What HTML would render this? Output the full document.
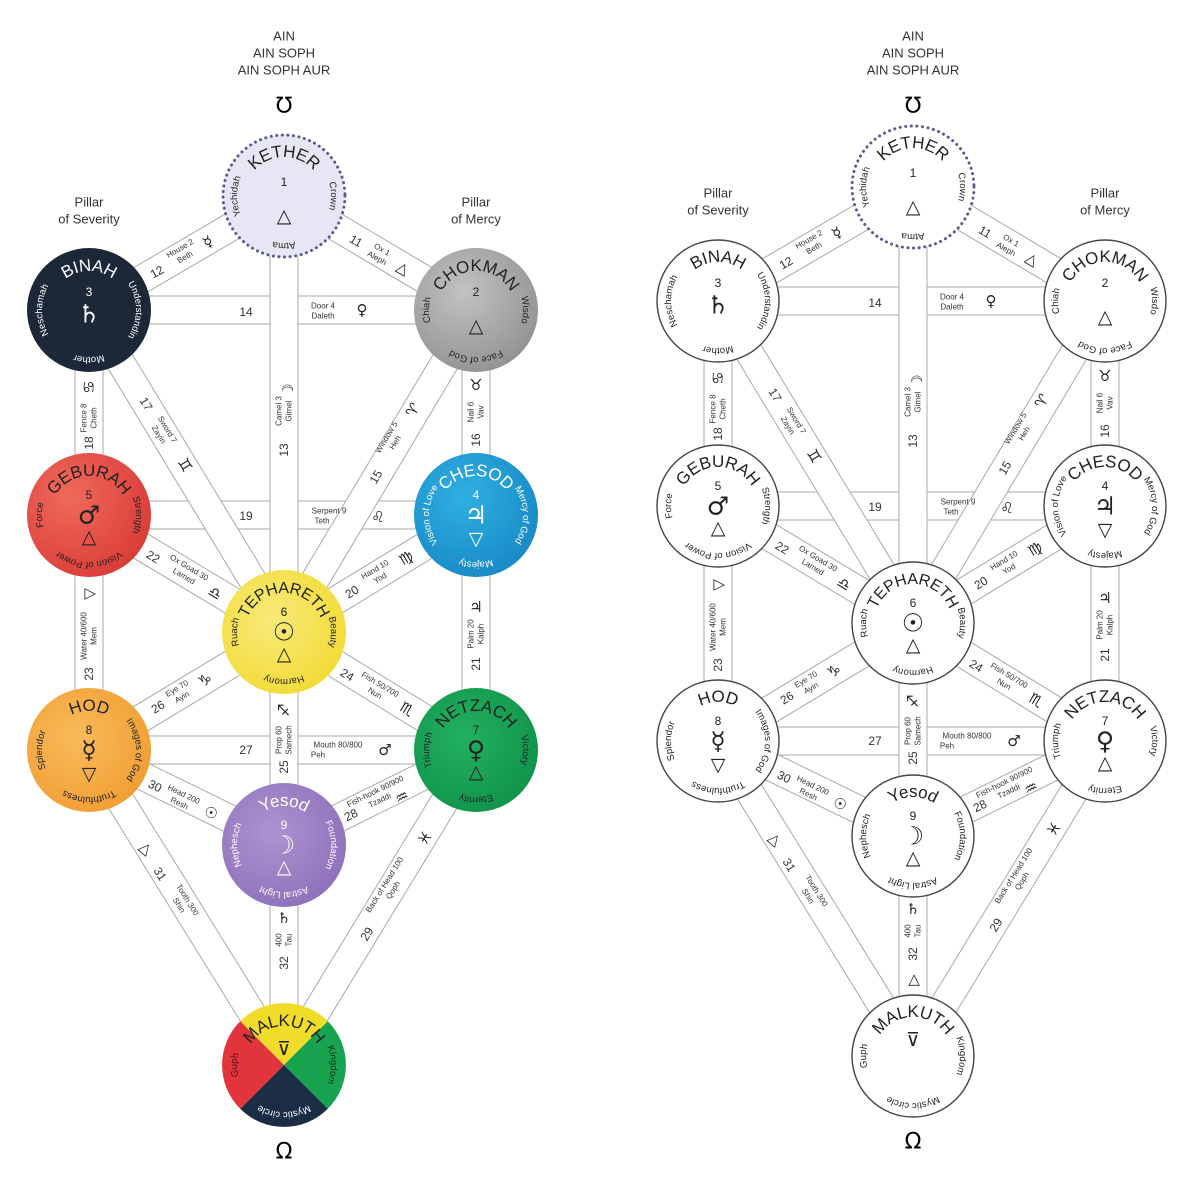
<!DOCTYPE html>
<html><head><meta charset="utf-8"><style>
html,body{margin:0;padding:0;background:#fff}
svg{display:block}
text{font-family:"Liberation Sans","DejaVu Sans",sans-serif;text-anchor:middle;dominant-baseline:central}
.o{stroke:#a9a9a9;stroke-width:29}
.i{stroke:#fff;stroke-width:27}
.n{font-size:12px;fill:#333}
.l{font-size:8px;fill:#333}
.s{font-size:15px;fill:#222;font-family:"DejaVu Sans",sans-serif}
.t{font-size:13px;fill:#333}
.nm{font-size:17px;dominant-baseline:auto;letter-spacing:-0.3px}
.sw{font-size:9.5px;dominant-baseline:auto}
.num{font-size:12px}
.sy{font-size:25px;font-family:"DejaVu Sans",sans-serif;font-weight:bold}
.tr{font-size:19px;font-family:"DejaVu Sans",sans-serif}
.dk text{fill:#222}
.wh text{fill:#fff}
</style></head><body>
<svg width="1200" height="1200" viewBox="0 0 1200 1200" xmlns="http://www.w3.org/2000/svg">
<defs>
<path id="a40" d="M -39,0 A 39 39 0 1 1 39,0 A 39 39 0 1 1 -39,0"/>
<path id="a47" d="M -47,0 A 47 47 0 1 1 47,0 A 47 47 0 1 1 -47,0"/>
<path id="b47" d="M 47,0 A 47 47 0 1 1 -47,0 A 47 47 0 1 1 47,0"/>
<g id="paths">
 <line class="o" x1="89" y1="310" x2="476" y2="310"/><line class="i" x1="89" y1="310" x2="476" y2="310"/>
 <line class="o" x1="89" y1="515" x2="476" y2="515"/><line class="i" x1="89" y1="515" x2="476" y2="515"/>
 <line class="o" x1="89" y1="750" x2="476" y2="750"/><line class="i" x1="89" y1="750" x2="476" y2="750"/>
 <line class="o" x1="89" y1="310" x2="284" y2="196"/><line class="i" x1="89" y1="310" x2="284" y2="196"/>
 <line class="o" x1="476" y1="310" x2="284" y2="196"/><line class="i" x1="476" y1="310" x2="284" y2="196"/>
 <line class="o" x1="89" y1="310" x2="284" y2="632"/><line class="i" x1="89" y1="310" x2="284" y2="632"/>
 <line class="o" x1="476" y1="310" x2="284" y2="632"/><line class="i" x1="476" y1="310" x2="284" y2="632"/>
 <line class="o" x1="89" y1="515" x2="284" y2="632"/><line class="i" x1="89" y1="515" x2="284" y2="632"/>
 <line class="o" x1="476" y1="515" x2="284" y2="632"/><line class="i" x1="476" y1="515" x2="284" y2="632"/>
 <line class="o" x1="89" y1="750" x2="284" y2="632"/><line class="i" x1="89" y1="750" x2="284" y2="632"/>
 <line class="o" x1="476" y1="750" x2="284" y2="632"/><line class="i" x1="476" y1="750" x2="284" y2="632"/>
 <line class="o" x1="89" y1="750" x2="284" y2="845"/><line class="i" x1="89" y1="750" x2="284" y2="845"/>
 <line class="o" x1="476" y1="750" x2="284" y2="845"/><line class="i" x1="476" y1="750" x2="284" y2="845"/>
 <line class="o" x1="89" y1="750" x2="284" y2="1065"/><line class="i" x1="89" y1="750" x2="284" y2="1065"/>
 <line class="o" x1="476" y1="750" x2="284" y2="1065"/><line class="i" x1="476" y1="750" x2="284" y2="1065"/>
 <line class="o" x1="89" y1="310" x2="89" y2="750"/><line class="i" x1="89" y1="310" x2="89" y2="750"/>
 <line class="o" x1="476" y1="310" x2="476" y2="750"/><line class="i" x1="476" y1="310" x2="476" y2="750"/>
 <line class="o" x1="284" y1="196" x2="284" y2="1065"/><line class="i" x1="284" y1="196" x2="284" y2="1065"/>
 <!-- labels -->
 <text class="n" transform="translate(157,272) rotate(-30)">12</text>
 <g transform="translate(182,252) rotate(-30)"><text class="l" y="-4">House 2</text><text class="l" y="6">Beth</text></g>
 <text class="s" transform="translate(208,242) rotate(-30)">☿&#xFE0E;</text>
 <text class="n" transform="translate(356,241) rotate(30)">11</text>
 <g transform="translate(380,253) rotate(30)"><text class="l" y="-4">Ox 1</text><text class="l" y="6">Aleph</text></g>
 <text class="s" transform="translate(403,268) rotate(30)">△</text>
 <text class="n" x="246" y="312">14</text>
 <text class="l" x="323" y="306">Door 4</text><text class="l" x="323" y="316">Daleth</text>
 <text class="s" x="362" y="310">♀&#xFE0E;</text>
 <text class="n" transform="translate(284,450) rotate(-90)">13</text>
 <g transform="translate(284,411) rotate(-90)"><text class="l" y="-5">Camel 3</text><text class="l" y="5">Gimel</text></g>
 <text class="s" transform="translate(288,390) rotate(-90)">☽&#xFE0E;</text>
 <text class="n" transform="translate(89,443) rotate(-90)">18</text>
 <g transform="translate(89,418) rotate(-90)"><text class="l" y="-5">Fence 8</text><text class="l" y="5">Cheth</text></g>
 <text class="s" transform="translate(89,387) rotate(-90)">♋&#xFE0E;</text>
 <text class="n" transform="translate(476,440) rotate(-90)">16</text>
 <g transform="translate(476,412) rotate(-90)"><text class="l" y="-5">Nail 6</text><text class="l" y="5">Vav</text></g>
 <text class="s" x="476" y="385">♉&#xFE0E;</text>
 <text class="n" transform="translate(146,404) rotate(59)">17</text>
 <g transform="translate(163,432) rotate(59)"><text class="l" y="-5">Sword 7</text><text class="l" y="5">Zayin</text></g>
 <text class="s" transform="translate(185,465) rotate(59)">♊&#xFE0E;</text>
 <text class="n" transform="translate(376,477) rotate(-59)">15</text>
 <g transform="translate(391,440) rotate(-59)"><text class="l" y="-5">Window 5</text><text class="l" y="5">Heh</text></g>
 <text class="s" transform="translate(413,410) rotate(-59)">♈&#xFE0E;</text>
 <text class="n" x="246" y="516">19</text>
 <text class="l" x="329" y="511">Serpent 9</text><text class="l" x="322" y="521">Teth</text>
 <text class="s" x="378" y="517">♌&#xFE0E;</text>
 <text class="n" transform="translate(153,557) rotate(31)">22</text>
 <g transform="translate(187,571) rotate(31)"><text class="l" y="-4">Ox Goad 30</text><text class="l" y="6">Lamed</text></g>
 <text class="s" transform="translate(215,593) rotate(31)">♎&#xFE0E;</text>
 <text class="n" transform="translate(352,592) rotate(-31)">20</text>
 <g transform="translate(377,573) rotate(-31)"><text class="l" y="-4">Hand 10</text><text class="l" y="6">Yod</text></g>
 <text class="s" transform="translate(406,558) rotate(-31)">♍&#xFE0E;</text>
 <text class="n" transform="translate(89,674) rotate(-90)">23</text>
 <g transform="translate(89,636) rotate(-90)"><text class="l" y="-5">Water 40/600</text><text class="l" y="5">Mem</text></g>
 <text class="s" transform="translate(89,594) rotate(-90)">▽</text>
 <text class="n" transform="translate(476,664) rotate(-90)">21</text>
 <g transform="translate(476,634) rotate(-90)"><text class="l" y="-5">Palm 20</text><text class="l" y="5">Kalph</text></g>
 <text class="s" x="476" y="607">♃&#xFE0E;</text>
 <text class="n" transform="translate(158,707) rotate(-31)">26</text>
 <g transform="translate(179,692) rotate(-31)"><text class="l" y="-4">Eye 70</text><text class="l" y="6">Ayin</text></g>
 <text class="s" transform="translate(205,680) rotate(-31)">♑&#xFE0E;</text>
 <text class="n" transform="translate(347,675) rotate(31)">24</text>
 <g transform="translate(378,688) rotate(31)"><text class="l" y="-4">Fish 50/700</text><text class="l" y="6">Nun</text></g>
 <text class="s" transform="translate(407,709) rotate(31)">♏&#xFE0E;</text>
 <text class="n" transform="translate(284,767) rotate(-90)">25</text>
 <g transform="translate(284,740) rotate(-90)"><text class="l" y="-5">Prop 60</text><text class="l" y="5">Samech</text></g>
 <text class="s" transform="translate(284,710) rotate(-90)">♐&#xFE0E;</text>
 <text class="n" x="246" y="750">27</text>
 <text class="l" x="338" y="745">Mouth 80/800</text><text class="l" x="318" y="755">Peh</text>
 <text class="s" x="385" y="750">♂&#xFE0E;</text>
 <text class="n" transform="translate(155,786) rotate(26)">30</text>
 <g transform="translate(182,798) rotate(26)"><text class="l" y="-4">Head 200</text><text class="l" y="6">Resh</text></g>
 <text class="s" transform="translate(211,813) rotate(26)">☉&#xFE0E;</text>
 <text class="n" transform="translate(351,815) rotate(-26)">28</text>
 <g transform="translate(377,795) rotate(-26)"><text class="l" y="-4">Fish-hook 90/900</text><text class="l" y="6">Tzaddi</text></g>
 <text class="s" transform="translate(402,797) rotate(-26)">♒&#xFE0E;</text>
 <text class="s" transform="translate(146,848) rotate(40)">△</text>
 <text class="n" transform="translate(160,874) rotate(58)">31</text>
 <g transform="translate(184,902) rotate(58)"><text class="l" y="-4">Tooth 300</text><text class="l" y="6">Shin</text></g>
 <text class="n" transform="translate(367,934) rotate(-58)">29</text>
 <g transform="translate(388,887) rotate(-58)"><text class="l" y="-4">Back of Head 100</text><text class="l" y="6">Qoph</text></g>
 <text class="s" transform="translate(425,838) rotate(-58)">♓&#xFE0E;</text>
 <text class="n" transform="translate(284,963) rotate(-90)">32</text>
 <g transform="translate(284,940) rotate(-90)"><text class="l" y="-5">400</text><text class="l" y="5">Tau</text></g>
 <text class="s" x="284" y="918">♄&#xFE0E;</text>
 <text class="t" x="89" y="202">Pillar</text><text class="t" x="89" y="219">of Severity</text>
 <text class="t" x="476" y="202">Pillar</text><text class="t" x="476" y="219">of Mercy</text>
</g>
<radialGradient id="gr" cx="35%" cy="35%" r="75%"><stop offset="0" stop-color="#ef6a5c"/><stop offset="1" stop-color="#d93a36"/></radialGradient>
<radialGradient id="gb" cx="40%" cy="35%" r="75%"><stop offset="0" stop-color="#2fb0e2"/><stop offset="1" stop-color="#1686c4"/></radialGradient>
<radialGradient id="gg" cx="40%" cy="35%" r="75%"><stop offset="0" stop-color="#c2c2c2"/><stop offset="1" stop-color="#8e8e8e"/></radialGradient>
<radialGradient id="gy" cx="40%" cy="40%" r="75%"><stop offset="0" stop-color="#f8ea7a"/><stop offset="1" stop-color="#f2d92c"/></radialGradient>
<radialGradient id="go" cx="40%" cy="40%" r="75%"><stop offset="0" stop-color="#f8bb5a"/><stop offset="1" stop-color="#f09a2e"/></radialGradient>
<radialGradient id="gn" cx="40%" cy="40%" r="75%"><stop offset="0" stop-color="#22b060"/><stop offset="1" stop-color="#0d9048"/></radialGradient>
<radialGradient id="gp" cx="40%" cy="40%" r="75%"><stop offset="0" stop-color="#ad93d0"/><stop offset="1" stop-color="#8a6cb8"/></radialGradient>
</defs>

<text class="t" x="284" y="36">AIN</text><text class="t" x="284" y="53">AIN SOPH</text><text class="t" x="284" y="70">AIN SOPH AUR</text>
<text x="284" y="106" style="font-size:22px;font-family:'DejaVu Sans',sans-serif">℧</text>
<text x="284" y="1152" style="font-size:22px;font-family:'DejaVu Sans',sans-serif">Ω</text>
<text class="t" x="913" y="36">AIN</text><text class="t" x="913" y="53">AIN SOPH</text><text class="t" x="913" y="70">AIN SOPH AUR</text>
<text x="913" y="106" style="font-size:22px;font-family:'DejaVu Sans',sans-serif">℧</text>
<text x="913" y="1142" style="font-size:22px;font-family:'DejaVu Sans',sans-serif">Ω</text>

<use href="#paths"/>
<g transform="translate(629,-9)"><use href="#paths"/>
<text class="s" transform="translate(284,989) rotate(-90)">▷</text></g>

<!-- LEFT NODES -->
<g class="dk" transform="translate(284,196)"><circle r="61" fill="#e6e6f5" stroke="#5a5a90" stroke-width="3" stroke-dasharray="0.1 5.5" stroke-linecap="round"/>
<text class="nm"><textPath href="#a40" startOffset="25%" text-anchor="middle">KETHER</textPath></text>
<text class="num" y="-14">1</text><text class="tr" y="20">△</text>
<text class="sw"><textPath href="#b47" startOffset="50%" text-anchor="middle">Yechidah</textPath></text>
<text class="sw"><textPath href="#a47" startOffset="50%" text-anchor="middle">Crown</textPath></text>
<text class="sw"><textPath href="#a47" startOffset="75%" text-anchor="middle">Atma</textPath></text></g>

<g class="wh" transform="translate(89,310)"><circle r="62" fill="#1c2838"/>
<text class="nm"><textPath href="#a40" startOffset="25%" text-anchor="middle">BINAH</textPath></text>
<text class="num" y="-18">3</text><text class="sy" y="4">♄&#xFE0E;</text>
<text class="sw"><textPath href="#b47" startOffset="50%" text-anchor="middle">Neschamah</textPath></text>
<text class="sw"><textPath href="#a47" startOffset="50%" text-anchor="middle">Understandin</textPath></text>
<text class="sw"><textPath href="#a47" startOffset="75%" text-anchor="middle">Mother</textPath></text></g>

<g class="dk" transform="translate(476,310)"><circle r="62" fill="url(#gg)"/>
<text class="nm"><textPath href="#a40" startOffset="25%" text-anchor="middle">CHOKMAN</textPath></text>
<text class="num" y="-18">2</text><text class="tr" y="16">△</text>
<text class="sw"><textPath href="#b47" startOffset="50%" text-anchor="middle">Chiah</textPath></text>
<text class="sw"><textPath href="#a47" startOffset="50%" text-anchor="middle">Wisdo</textPath></text>
<text class="sw"><textPath href="#a47" startOffset="75%" text-anchor="middle">Face of God</textPath></text></g>

<g class="dk" transform="translate(89,515)"><circle r="62" fill="url(#gr)"/>
<text class="nm"><textPath href="#a40" startOffset="25%" text-anchor="middle">GEBURAH</textPath></text>
<text class="num" y="-20">5</text><text class="sy" y="0">♂&#xFE0E;</text><text class="tr" y="22">△</text>
<text class="sw"><textPath href="#b47" startOffset="50%" text-anchor="middle">Force</textPath></text>
<text class="sw"><textPath href="#a47" startOffset="50%" text-anchor="middle">Strength</textPath></text>
<text class="sw"><textPath href="#a47" startOffset="75%" text-anchor="middle">Vision of Power</textPath></text></g>

<g class="wh" transform="translate(476,515)"><circle r="62" fill="url(#gb)"/>
<text class="nm"><textPath href="#a40" startOffset="25%" text-anchor="middle">CHESOD</textPath></text>
<text class="num" y="-20">4</text><text class="sy" y="0">♃&#xFE0E;</text><text class="tr" y="24">▽</text>
<text class="sw"><textPath href="#b47" startOffset="50%" text-anchor="middle">Vision of Love</textPath></text>
<text class="sw"><textPath href="#a47" startOffset="50%" text-anchor="middle">Mercy of God</textPath></text>
<text class="sw"><textPath href="#a47" startOffset="75%" text-anchor="middle">Majesty</textPath></text></g>

<g class="dk" transform="translate(284,632)"><circle r="62" fill="url(#gy)"/>
<text class="nm" style="font-size:16px"><textPath href="#a40" startOffset="25%" text-anchor="middle">TEPHARETH</textPath></text>
<text class="num" y="-20">6</text><text class="sy" y="0">☉&#xFE0E;</text><text class="tr" y="22">△</text>
<text class="sw"><textPath href="#b47" startOffset="50%" text-anchor="middle">Ruach</textPath></text>
<text class="sw"><textPath href="#a47" startOffset="50%" text-anchor="middle">Beauty</textPath></text>
<text class="sw"><textPath href="#a47" startOffset="75%" text-anchor="middle">Harmony</textPath></text></g>

<g class="dk" transform="translate(89,750)"><circle r="62" fill="url(#go)"/>
<text class="nm"><textPath href="#a40" startOffset="25%" text-anchor="middle">HOD</textPath></text>
<text class="num" y="-20">8</text><text class="sy" y="0">☿&#xFE0E;</text><text class="tr" y="24">▽</text>
<text class="sw"><textPath href="#b47" startOffset="50%" text-anchor="middle">Splendor</textPath></text>
<text class="sw"><textPath href="#a47" startOffset="50%" text-anchor="middle">Images of God</textPath></text>
<text class="sw"><textPath href="#a47" startOffset="75%" text-anchor="middle">Truthfulness</textPath></text></g>

<g class="dk" transform="translate(476,750)"><circle r="62" fill="url(#gn)"/>
<text class="nm"><textPath href="#a40" startOffset="25%" text-anchor="middle">NETZACH</textPath></text>
<text class="num" y="-20">7</text><text class="sy" y="0">♀&#xFE0E;</text><text class="tr" y="22">△</text>
<text class="sw"><textPath href="#b47" startOffset="50%" text-anchor="middle">Triumph</textPath></text>
<text class="sw"><textPath href="#a47" startOffset="50%" text-anchor="middle">Victory</textPath></text>
<text class="sw"><textPath href="#a47" startOffset="75%" text-anchor="middle">Eternity</textPath></text></g>

<g class="wh" transform="translate(284,845)"><circle r="62" fill="url(#gp)"/>
<text class="nm"><textPath href="#a40" startOffset="25%" text-anchor="middle">Yesod</textPath></text>
<text class="num" y="-20">9</text><text class="sy" y="0">☽&#xFE0E;</text><text class="tr" y="22">△</text>
<text class="sw"><textPath href="#b47" startOffset="50%" text-anchor="middle">Nephesch</textPath></text>
<text class="sw"><textPath href="#a47" startOffset="50%" text-anchor="middle">Foundation</textPath></text>
<text class="sw"><textPath href="#a47" startOffset="75%" text-anchor="middle">Astral Light</textPath></text></g>

<g transform="translate(284,1065)">
<path d="M0,0 L-43.8,-43.8 A62 62 0 0 1 43.8,-43.8 Z" fill="#f2dc2a"/>
<path d="M0,0 L43.8,-43.8 A62 62 0 0 1 43.8,43.8 Z" fill="#17a34f"/>
<path d="M0,0 L43.8,43.8 A62 62 0 0 1 -43.8,43.8 Z" fill="#1b2c45"/>
<path d="M0,0 L-43.8,43.8 A62 62 0 0 1 -43.8,-43.8 Z" fill="#e2343c"/>
<text class="nm" fill="#222"><textPath href="#a40" startOffset="25%" text-anchor="middle">MALKUTH</textPath></text>
<text class="tr" y="-16" fill="#222">⊽</text>
<text class="sw" fill="#5a1010"><textPath href="#b47" startOffset="50%" text-anchor="middle">Guph</textPath></text>
<text class="sw" fill="#10301a"><textPath href="#a47" startOffset="50%" text-anchor="middle">Kingdom</textPath></text>
<text class="sw" fill="#fff"><textPath href="#a47" startOffset="75%" text-anchor="middle">Mystic circle</textPath></text></g>

<!-- RIGHT NODES -->
<g class="dk" transform="translate(629,-9)">
<g transform="translate(284,196)"><circle r="61" fill="#fff" stroke="#5a5a90" stroke-width="3" stroke-dasharray="0.1 5.5" stroke-linecap="round"/>
<text class="nm"><textPath href="#a40" startOffset="25%" text-anchor="middle">KETHER</textPath></text>
<text class="num" y="-14">1</text><text class="tr" y="20">△</text>
<text class="sw"><textPath href="#b47" startOffset="50%" text-anchor="middle">Yechidah</textPath></text>
<text class="sw"><textPath href="#a47" startOffset="50%" text-anchor="middle">Crown</textPath></text>
<text class="sw"><textPath href="#a47" startOffset="75%" text-anchor="middle">Atma</textPath></text></g>
<g transform="translate(89,310)"><circle r="61" fill="#fff" stroke="#444" stroke-width="1.4"/>
<text class="nm"><textPath href="#a40" startOffset="25%" text-anchor="middle">BINAH</textPath></text>
<text class="num" y="-18">3</text><text class="sy" y="4">♄&#xFE0E;</text>
<text class="sw"><textPath href="#b47" startOffset="50%" text-anchor="middle">Neschamah</textPath></text>
<text class="sw"><textPath href="#a47" startOffset="50%" text-anchor="middle">Understandin</textPath></text>
<text class="sw"><textPath href="#a47" startOffset="75%" text-anchor="middle">Mother</textPath></text></g>
<g transform="translate(476,310)"><circle r="61" fill="#fff" stroke="#444" stroke-width="1.4"/>
<text class="nm"><textPath href="#a40" startOffset="25%" text-anchor="middle">CHOKMAN</textPath></text>
<text class="num" y="-18">2</text><text class="tr" y="16">△</text>
<text class="sw"><textPath href="#b47" startOffset="50%" text-anchor="middle">Chiah</textPath></text>
<text class="sw"><textPath href="#a47" startOffset="50%" text-anchor="middle">Wisdo</textPath></text>
<text class="sw"><textPath href="#a47" startOffset="75%" text-anchor="middle">Face of God</textPath></text></g>
<g transform="translate(89,515)"><circle r="61" fill="#fff" stroke="#444" stroke-width="1.4"/>
<text class="nm"><textPath href="#a40" startOffset="25%" text-anchor="middle">GEBURAH</textPath></text>
<text class="num" y="-20">5</text><text class="sy" y="0">♂&#xFE0E;</text><text class="tr" y="22">△</text>
<text class="sw"><textPath href="#b47" startOffset="50%" text-anchor="middle">Force</textPath></text>
<text class="sw"><textPath href="#a47" startOffset="50%" text-anchor="middle">Strength</textPath></text>
<text class="sw"><textPath href="#a47" startOffset="75%" text-anchor="middle">Vision of Power</textPath></text></g>
<g transform="translate(476,515)"><circle r="61" fill="#fff" stroke="#444" stroke-width="1.4"/>
<text class="nm"><textPath href="#a40" startOffset="25%" text-anchor="middle">CHESOD</textPath></text>
<text class="num" y="-20">4</text><text class="sy" y="0">♃&#xFE0E;</text><text class="tr" y="24">▽</text>
<text class="sw"><textPath href="#b47" startOffset="50%" text-anchor="middle">Vision of Love</textPath></text>
<text class="sw"><textPath href="#a47" startOffset="50%" text-anchor="middle">Mercy of God</textPath></text>
<text class="sw"><textPath href="#a47" startOffset="75%" text-anchor="middle">Majesty</textPath></text></g>
<g transform="translate(284,632)"><circle r="61" fill="#fff" stroke="#444" stroke-width="1.4"/>
<text class="nm" style="font-size:16px"><textPath href="#a40" startOffset="25%" text-anchor="middle">TEPHARETH</textPath></text>
<text class="num" y="-20">6</text><text class="sy" y="0">☉&#xFE0E;</text><text class="tr" y="22">△</text>
<text class="sw"><textPath href="#b47" startOffset="50%" text-anchor="middle">Ruach</textPath></text>
<text class="sw"><textPath href="#a47" startOffset="50%" text-anchor="middle">Beauty</textPath></text>
<text class="sw"><textPath href="#a47" startOffset="75%" text-anchor="middle">Harmony</textPath></text></g>
<g transform="translate(89,750)"><circle r="61" fill="#fff" stroke="#444" stroke-width="1.4"/>
<text class="nm"><textPath href="#a40" startOffset="25%" text-anchor="middle">HOD</textPath></text>
<text class="num" y="-20">8</text><text class="sy" y="0">☿&#xFE0E;</text><text class="tr" y="24">▽</text>
<text class="sw"><textPath href="#b47" startOffset="50%" text-anchor="middle">Splendor</textPath></text>
<text class="sw"><textPath href="#a47" startOffset="50%" text-anchor="middle">Images of God</textPath></text>
<text class="sw"><textPath href="#a47" startOffset="75%" text-anchor="middle">Truthfulness</textPath></text></g>
<g transform="translate(476,750)"><circle r="61" fill="#fff" stroke="#444" stroke-width="1.4"/>
<text class="nm"><textPath href="#a40" startOffset="25%" text-anchor="middle">NETZACH</textPath></text>
<text class="num" y="-20">7</text><text class="sy" y="0">♀&#xFE0E;</text><text class="tr" y="22">△</text>
<text class="sw"><textPath href="#b47" startOffset="50%" text-anchor="middle">Triumph</textPath></text>
<text class="sw"><textPath href="#a47" startOffset="50%" text-anchor="middle">Victory</textPath></text>
<text class="sw"><textPath href="#a47" startOffset="75%" text-anchor="middle">Eternity</textPath></text></g>
<g transform="translate(284,845)"><circle r="61" fill="#fff" stroke="#444" stroke-width="1.4"/>
<text class="nm"><textPath href="#a40" startOffset="25%" text-anchor="middle">Yesod</textPath></text>
<text class="num" y="-20">9</text><text class="sy" y="0">☽&#xFE0E;</text><text class="tr" y="22">△</text>
<text class="sw"><textPath href="#b47" startOffset="50%" text-anchor="middle">Nephesch</textPath></text>
<text class="sw"><textPath href="#a47" startOffset="50%" text-anchor="middle">Foundation</textPath></text>
<text class="sw"><textPath href="#a47" startOffset="75%" text-anchor="middle">Astral Light</textPath></text></g>
<g transform="translate(284,1065)"><circle r="61" fill="#fff" stroke="#444" stroke-width="1.4"/>
<text class="nm"><textPath href="#a40" startOffset="25%" text-anchor="middle">MALKUTH</textPath></text>
<text class="tr" y="-16">⊽</text>
<text class="sw"><textPath href="#b47" startOffset="50%" text-anchor="middle">Guph</textPath></text>
<text class="sw"><textPath href="#a47" startOffset="50%" text-anchor="middle">Kingdom</textPath></text>
<text class="sw"><textPath href="#a47" startOffset="75%" text-anchor="middle">Mystic circle</textPath></text></g>
</g>
</svg>
</body></html>
